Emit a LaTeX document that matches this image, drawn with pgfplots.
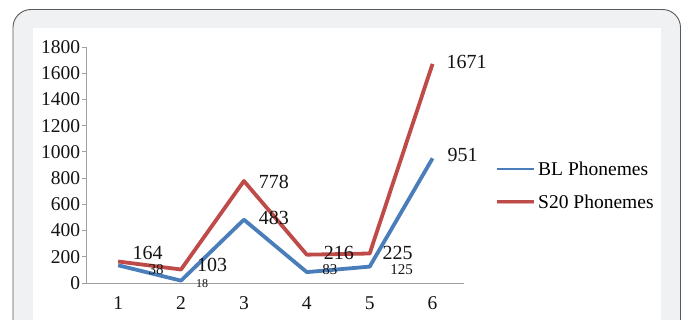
\documentclass[border=0pt]{standalone}
\usepackage{pgfplots}
\pgfplotsset{compat=1.18}
\usepackage{fontspec}
\setmainfont{Liberation Serif}
\definecolor{blueL}{HTML}{4A7EBB}
\definecolor{redL}{HTML}{BE4B48}
\definecolor{axgray}{RGB}{160,160,160}
\definecolor{panel}{HTML}{F0F1F3}
\definecolor{frame}{HTML}{5A5A5A}
\begin{document}
\begin{tikzpicture}[x=1pt,y=1pt]
\useasboundingbox (0pt,0pt) rectangle (685pt,319pt);
\clip (0pt,0pt) rectangle (685pt,319pt);
\fill[white] (0pt,0pt) rectangle (685pt,319pt);
\draw[frame, fill=panel, line width=0.9pt, rounded corners=18pt] (13pt,-40pt) rectangle (680.5pt,309.5pt);
\fill[white] (33pt,-10pt) rectangle (661pt,291pt);
\begin{axis}[
  at={(86.7pt,36pt)}, anchor=south west,
  scale only axis, width=377.3pt, height=236pt,
  xmin=0.5, xmax=6.5, ymin=0, ymax=1800,
  clip=false,
  axis lines*=left,
  axis line style={axgray, line width=0.9pt},
  every tick/.style={axgray, line width=0.9pt},
  tick align=outside,
  ytick={0,200,...,1800},
  major tick length=4.5pt,
  xtick={1,...,6},
  x tick style={draw=none},
  minor xtick={0.5,1.5,...,6.5},
  minor tick length=5pt,
  minor x tick style={axgray, line width=0.9pt},
  /pgf/number format/assume math mode=true,
  /pgf/number format/1000 sep={},
  tick label style={font=\fontsize{19.5}{21}\selectfont, text=black!92},
  yticklabel style={xshift=1.5pt},
  xticklabel style={yshift=-6pt},
  legend cell align=left,
  legend style={at={(1.0822,0.413)}, anchor=west, draw=none, fill=none,
    inner sep=0pt, font=\fontsize{19.5}{21}\selectfont, row sep=14pt},
]
\addplot[blueL, line width=3.8pt, line join=round,
  nodes near coords, point meta=explicit symbolic,
  visualization depends on={value \thisrow{dx} \as \dx},
  visualization depends on={value \thisrow{dy} \as \dy},
  visualization depends on={value \thisrow{fs} \as \fs},
  every node near coord/.append style={anchor=center, xshift=\dx pt, yshift=\dy pt,
    font=\fontsize{\fs}{\fs}\selectfont, text=black!92, inner sep=0pt},
  legend image code/.code={\draw[blueL, line width=1.3pt] (0pt,0pt) -- (37pt,0pt);}]
  table[x=x, y=y, meta=lab] {
x y lab dx dy fs
1 135 38 38 -4 15
2 18 18 21 -3 12
3 483 483 30 1.7 20
4 83 83 23 2.7 15
5 125 125 32 -2.7 15
6 951 951 30 3.3 20
};
\addlegendentry{BL Phonemes}
\addplot[redL, line width=3.8pt, line join=round,
  nodes near coords, point meta=explicit symbolic,
  visualization depends on={value \thisrow{dx} \as \dx},
  visualization depends on={value \thisrow{dy} \as \dy},
  every node near coord/.append style={anchor=center, xshift=\dx pt, yshift=\dy pt,
    font=\fontsize{20}{20}\selectfont, text=black!92, inner sep=0pt},
  legend image code/.code={\draw[redL, line width=4pt] (0pt,0pt) -- (37pt,0pt);
    \draw[redL!45!white, line width=1pt] (0pt,-1.3pt) -- (37pt,-1.3pt);}]
  table[x=x, y=y, meta=lab] {
x y lab dx dy
1 164 164 29.5 8.5
2 103 103 31 4.5
3 778 778 30 -1
4 216 216 32 2
5 225 225 28 0.8
6 1671 1671 34 2.3
};
\addlegendentry{S20 Phonemes}
\end{axis}
\end{tikzpicture}
\end{document}
